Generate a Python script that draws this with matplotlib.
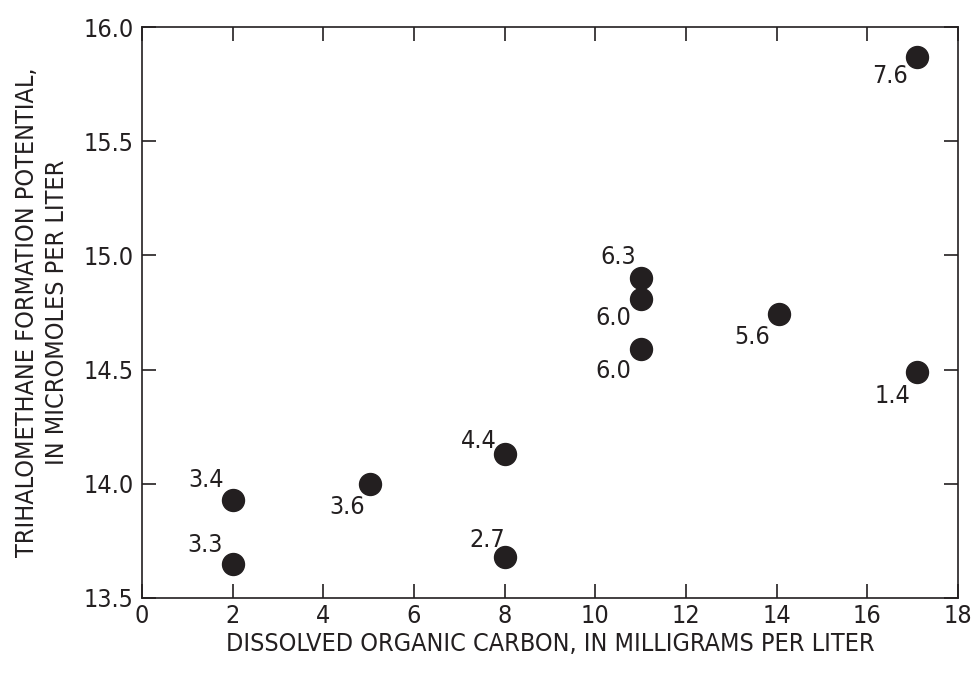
import matplotlib
matplotlib.use('Agg')
import matplotlib.pyplot as plt

plt.rcParams['font.family'] = ['DejaVu Sans']
plt.rcParams['font.stretch'] = 'condensed'

## Values
doc = [2, 2, 5.03, 8, 8, 11, 11, 11, 14.05, 17.1, 17.1]
thm = [13.93, 13.65, 14.0, 14.13, 13.68, 14.9, 14.81, 14.59, 14.745, 14.49, 15.87]
labels = ['3.4', '3.3', '3.6', '4.4', '2.7', '6.3', '6.0', '6.0', '5.6', '1.4', '7.6']
## label offsets in pixels (dx, dy) from each point
offsets = [(-27, 20), (-28, 19), (-23, -23), (-26, 13), (-17, 17), (-22, 21),
           (-27, -19), (-27, -22), (-27, -23), (-25, -24), (-27, -19)]

xticks = [0, 2, 4, 6, 8, 10, 12, 14, 16, 18]
yticks = [13.5, 14.0, 14.5, 15.0, 15.5, 16.0]

fig = plt.figure(figsize=(9.71, 6.77), dpi=100)
ax = fig.add_axes([0.1462, 0.1167, 0.8404, 0.8433])

ax.scatter(doc, thm, s=250, color='#231f20', zorder=3)
for x, y, lab, (dx, dy) in zip(doc, thm, labels, offsets):
    ax.annotate(lab, (x, y), xytext=(dx * 0.72, dy * 0.72), textcoords='offset points',
                ha='center', va='center', fontsize=18, color='#231f20')

ax.set_xlim(0, 18)
ax.set_ylim(13.5, 16.0)
ax.set_xticks(xticks)
ax.set_yticks(yticks)
ax.set_xticklabels([str(t) for t in xticks])
ax.set_yticklabels(['%.1f' % t for t in yticks])
ax.tick_params(direction='in', length=10, width=1.2, top=True, right=True,
               labelsize=18, colors='#231f20', pad=6)
ax.tick_params(axis='x', pad=4)
for sp in ax.spines.values():
    sp.set_linewidth(1.2)
    sp.set_color('#231f20')

ax.set_xlabel('DISSOLVED ORGANIC CARBON, IN MILLIGRAMS PER LITER', fontsize=18,
              color='#231f20', labelpad=3)
ax.set_ylabel('TRIHALOMETHANE FORMATION POTENTIAL,\nIN MICROMOLES PER LITER', fontsize=18,
              color='#231f20', labelpad=10, linespacing=1.35)

fig.savefig('out.png', dpi=100)
